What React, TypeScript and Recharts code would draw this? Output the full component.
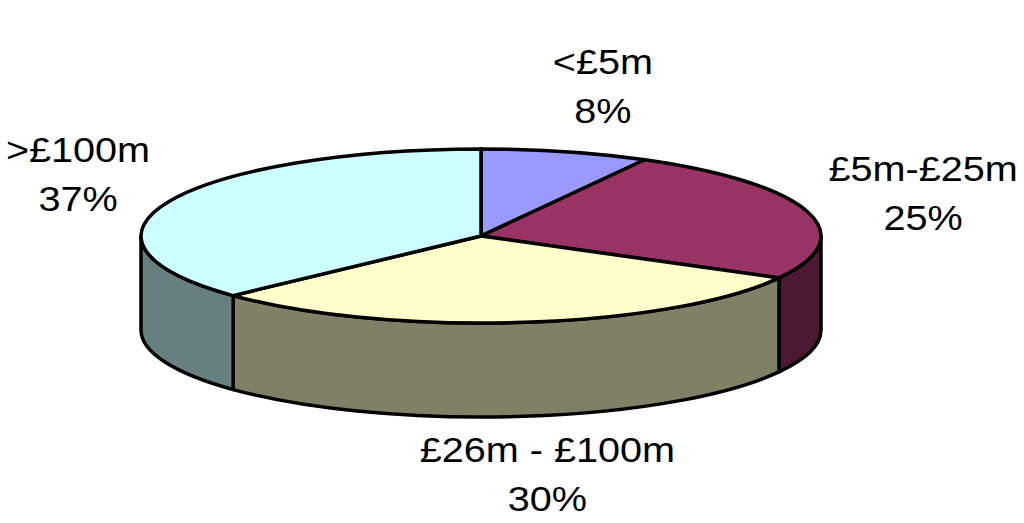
import { PieChart, Pie, Cell } from 'recharts';

// fund size bands, clockwise from 12 o'clock
const bands = ['<£5m', '£5m-£25m', '£26m - £100m', '>£100m'];
const shares = [8, 25, 30, 37];
const topColors = ['#9999FF', '#993366', '#FFFFCC', '#CCFFFF'];
const sideColors = ['#4D4D80', '#4C1933', '#808066', '#668080'];

const data = bands.map((name, i) => ({ name, value: shares[i] }));

const TILT = 0.256; // ry / rx of the top face
const DEPTH = 94;
const RAD = Math.PI / 180;

const pt = (cx, cy, rx, ry, a, dy = 0) =>
  `${cx + rx * Math.cos(a * RAD)},${cy - ry * Math.sin(a * RAD) + dy}`;

const Slice3D = (props) => {
  const { cx, cy, outerRadius, startAngle, endAngle, index } = props;
  const rx = outerRadius;
  const ry = outerRadius * TILT;
  const s = Math.max(startAngle, endAngle);
  const e = Math.min(startAngle, endAngle);
  const large = s - e > 180 ? 1 : 0;

  const top = `M${cx},${cy} L${pt(cx, cy, rx, ry, s)} A${rx},${ry} 0 ${large} 1 ${pt(cx, cy, rx, ry, e)} Z`;

  // front wall only where the rim faces the viewer (angles -180..0)
  const a1 = Math.min(s, 0);
  const a2 = Math.max(e, -180);
  let side = null;
  if (a1 > a2) {
    const d =
      `M${pt(cx, cy, rx, ry, a1)} A${rx},${ry} 0 0 1 ${pt(cx, cy, rx, ry, a2)} ` +
      `L${pt(cx, cy, rx, ry, a2, DEPTH)} A${rx},${ry} 0 0 0 ${pt(cx, cy, rx, ry, a1, DEPTH)} Z`;
    side = <path d={d} fill={sideColors[index]} stroke="#000" strokeWidth={3.5} strokeLinejoin="round" />;
  }

  return (
    <g>
      {side}
      <path d={top} fill={topColors[index]} stroke="#000" strokeWidth={3.5} strokeLinejoin="round" />
    </g>
  );
};

const renderLabel = (props) => {
  const { cx, cy, midAngle, name, percent } = props;
  const x = cx + 10 + 450 * Math.cos(midAngle * RAD);
  const sin = Math.sin(midAngle * RAD);
  const y = cy - 155 * sin + (sin < 0 ? 84 : 0);
  return (
    <g fontFamily="'Liberation Sans', Arial, sans-serif" fontSize={36} fill="#000">
      <text transform={`translate(${x},${y - 12}) scale(1.1,1)`} textAnchor="middle">{name}</text>
      <text transform={`translate(${x},${y + 37}) scale(1.1,1)`} textAnchor="middle">
        {`${Math.round(percent * 100)}%`}
      </text>
    </g>
  );
};

const App = () => {
  return (
    <div style={{ position: 'absolute', left: 0, top: 0, background: '#fff' }}>
      <PieChart width={1024} height={523} margin={{ top: 0, right: 0, bottom: 0, left: 0 }}>
        <Pie
          data={data}
          dataKey="value"
          nameKey="name"
          cx={481}
          cy={236}
          outerRadius={340}
          startAngle={90}
          endAngle={-270}
          shape={Slice3D}
          label={renderLabel}
          labelLine={false}
          isAnimationActive={false}
        >
          {data.map((d, i) => (
            <Cell key={d.name} fill={topColors[i]} />
          ))}
        </Pie>
      </PieChart>
    </div>
  );
};

export default App;
